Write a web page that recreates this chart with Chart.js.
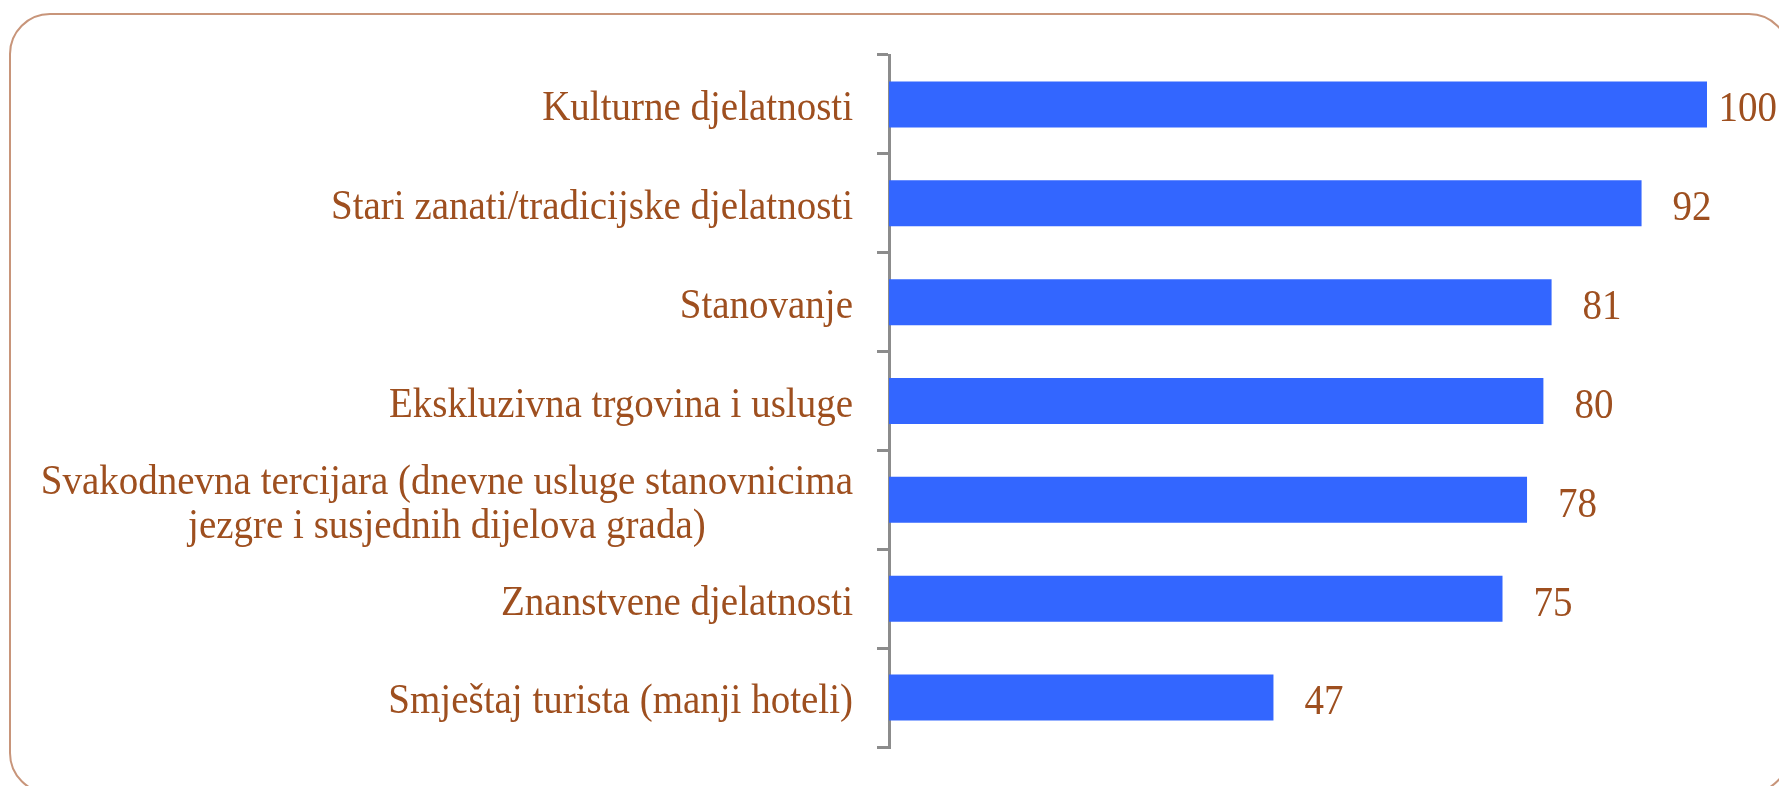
<!DOCTYPE html>
<html>
<head>
<meta charset="utf-8">
<script src="https://cdn.jsdelivr.net/npm/chart.js@4/dist/chart.umd.min.js"></script>
<style>
  html, body { margin: 0; padding: 0; background: #ffffff; }
  #wrap { position: relative; width: 1779px; height: 786px; }
  canvas { display: block; }
</style>
</head>
<body>
<div id="wrap"><canvas id="c" width="1779" height="786"></canvas></div>
<script>
const categories = [
  ["Kulturne djelatnosti"],
  ["Stari zanati/tradicijske djelatnosti"],
  ["Stanovanje"],
  ["Ekskluzivna trgovina i usluge"],
  ["Svakodnevna tercijara (dnevne usluge stanovnicima", "jezgre i susjednih dijelova grada)"],
  ["Znanstvene djelatnosti"],
  ["Smještaj turista (manji hoteli)"]
];
const values = [100, 92, 81, 80, 78, 75, 47];
const xMin = 0;
const xMax = 100;

const TEXT_COLOR = '#9E4F1F';
const FONT = '39px "Liberation Serif", "Times New Roman", serif';

const framePlugin = {
  id: 'frame',
  beforeDraw(chart) {
    const ctx = chart.ctx;
    ctx.save();
    ctx.strokeStyle = '#C8957A';
    ctx.lineWidth = 2;
    const x = 10, y = 14, w = 1789 - 10, h = 793 - 14, r = 40;
    ctx.beginPath();
    ctx.moveTo(x + r, y);
    ctx.lineTo(x + w - r, y);
    ctx.arcTo(x + w, y, x + w, y + r, r);
    ctx.lineTo(x + w, y + h - r);
    ctx.arcTo(x + w, y + h, x + w - r, y + h, r);
    ctx.lineTo(x + r, y + h);
    ctx.arcTo(x, y + h, x, y + h - r, r);
    ctx.lineTo(x, y + r);
    ctx.arcTo(x, y, x + r, y, r);
    ctx.closePath();
    ctx.stroke();
    ctx.restore();
  }
};

function drawStretched(ctx, text, x, y, sy) {
  ctx.save();
  ctx.translate(x, y);
  ctx.scale(1, sy);
  ctx.fillText(text, 0, 0);
  ctx.restore();
}

const labelPlugin = {
  id: 'labels',
  afterDraw(chart) {
    const ctx = chart.ctx;
    const yScale = chart.scales.y;
    const area = chart.chartArea;
    ctx.save();
    ctx.font = FONT;
    ctx.fillStyle = TEXT_COLOR;
    ctx.textBaseline = 'middle';
    const sy = 1.06;
    // category labels
    const rightEdge = area.left - 36;
    const lineH = 44;
    categories.forEach((lines, i) => {
      const cy = yScale.getPixelForValue(i);
      let widest = 0;
      lines.forEach(l => { widest = Math.max(widest, ctx.measureText(l).width); });
      const cx = rightEdge - widest / 2;
      ctx.textAlign = 'center';
      const startY = cy - (lines.length - 1) * lineH / 2;
      lines.forEach((l, k) => drawStretched(ctx, l, cx, startY + k * lineH + 5, sy));
    });
    // value labels
    const meta = chart.getDatasetMeta(0);
    ctx.textAlign = 'right';
    meta.data.forEach((bar, i) => {
      drawStretched(ctx, String(values[i]), bar.x + 70, bar.y + 6, sy);
    });
    ctx.restore();
  }
};

new Chart(document.getElementById('c'), {
  type: 'bar',
  data: {
    labels: categories,
    datasets: [{
      data: values,
      backgroundColor: '#3366FF',
      borderWidth: 0,
      barPercentage: 0.465,
      categoryPercentage: 1.0
    }]
  },
  options: {
    indexAxis: 'y',
    responsive: false,
    animation: false,
    devicePixelRatio: 1,
    layout: { padding: { top: 55, bottom: 39, right: 72, left: 0 } },
    plugins: {
      legend: { display: false },
      tooltip: { enabled: false },
      title: { display: false }
    },
    scales: {
      x: {
        display: false,
        min: xMin,
        max: xMax
      },
      y: {
        display: true,
        offset: true,
        ticks: { display: false },
        grid: {
          display: true,
          offset: true,
          drawOnChartArea: false,
          drawTicks: true,
          tickLength: 12,
          color: '#8C8C8C',
          lineWidth: 3
        },
        border: { display: true, color: '#8C8C8C', width: 3 },
        afterFit(scale) { scale.width = 889; }
      }
    }
  },
  plugins: [framePlugin, labelPlugin]
});
</script>
</body>
</html>
